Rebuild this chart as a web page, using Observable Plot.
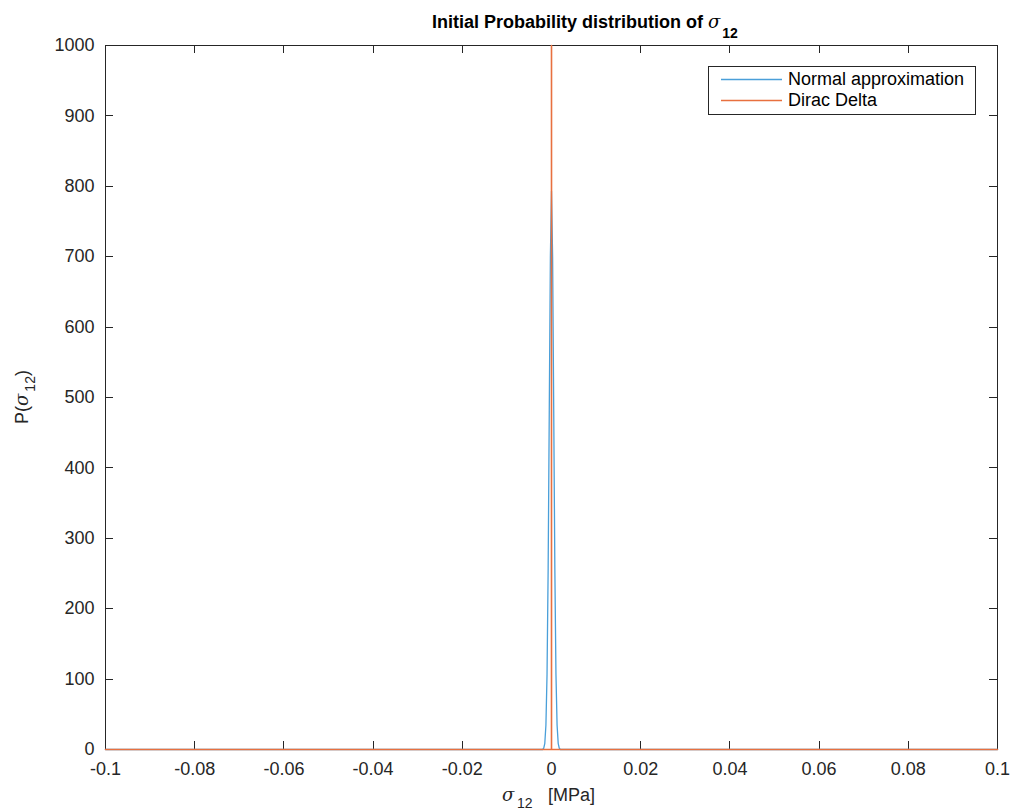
<!DOCTYPE html>
<html>
<head>
<meta charset="utf-8">
<script src="https://cdn.jsdelivr.net/npm/d3@7"></script>
<script src="https://cdn.jsdelivr.net/npm/@observablehq/plot@0.6"></script>
<style>
  html, body { margin: 0; padding: 0; background: #fff; }
  #chart svg { display: block; font-family: "Liberation Sans", Arial, Helvetica, sans-serif; }
</style>
</head>
<body>
<div id="chart"></div>
<script>
// ---- data ----
const normalX = [-0.1, -0.002, -0.00175, -0.0015, -0.00125, -0.001, -0.00075, -0.0005, -0.00025, 0,
                 0.00025, 0.0005, 0.00075, 0.001, 0.00125, 0.0015, 0.00175, 0.002, 0.1];
const normalY = [0, 0, 1.7, 8.8, 34.8, 107, 257, 481, 700, 793,
                 700, 481, 257, 107, 34.8, 8.8, 1.7, 0, 0];
const diracX = [-0.1, 0, 0, 0, 0.1];
const diracY = [0, 0, 1000, 0, 0];
const xTicks = [-0.1, -0.08, -0.06, -0.04, -0.02, 0, 0.02, 0.04, 0.06, 0.08, 0.1];
const xTickLabels = ["-0.1", "-0.08", "-0.06", "-0.04", "-0.02", "0", "0.02", "0.04", "0.06", "0.08", "0.1"];
const yTicks = [0, 100, 200, 300, 400, 500, 600, 700, 800, 900, 1000];
const yTickLabels = ["0", "100", "200", "300", "400", "500", "600", "700", "800", "900", "1000"];
const seriesNames = ["Normal approximation", "Dirac Delta"];
const seriesColors = ["#4A9FD9", "#E8703F"];

const normal = normalX.map((x, i) => ({x, y: normalY[i]}));
const dirac = diracX.map((x, i) => ({x, y: diracY[i]}));

const axisColor = "#262626";
const W = 1011, H = 812;
const mL = 105, mR = 14, mT = 45, mB = 63;

const plot = Plot.plot({
  width: W, height: H,
  marginLeft: mL, marginRight: mR, marginTop: mT, marginBottom: mB,
  style: {fontFamily: '"Liberation Sans", Arial, Helvetica, sans-serif', background: "#fff"},
  x: {domain: [-0.1, 0.1]},
  y: {domain: [0, 1000]},
  marks: [
    Plot.frame({stroke: axisColor, strokeWidth: 1}),
    Plot.axisX(xTicks, {tickSize: 0, tickPadding: 13, fontSize: 18, fill: axisColor,
      tickFormat: (d) => xTickLabels[xTicks.indexOf(d)], label: null}),
    Plot.axisY(yTicks, {tickSize: 0, tickPadding: 11, fontSize: 18, fill: axisColor,
      tickFormat: (d) => yTickLabels[yTicks.indexOf(d)], label: null}),
    Plot.line(normal, {x: "x", y: "y", stroke: seriesColors[0], strokeWidth: 1.3}),
    Plot.line(dirac, {x: "x", y: "y", stroke: seriesColors[1], strokeWidth: 1.6})
  ]
});

document.getElementById("chart").appendChild(plot);

const svg = d3.select(plot);
const sx = plot.scale("x"), sy = plot.scale("y");
const x0 = mL, x1 = W - mR, y0 = mT, y1 = H - mB;
const tl = 8;

// inward ticks on all four sides
const g = svg.insert("g", ":first-child").attr("stroke", axisColor).attr("stroke-width", 1);
xTicks.forEach(v => {
  const px = Math.round(sx.apply(v)) + 0.5;
  g.append("line").attr("x1", px).attr("x2", px).attr("y1", y1).attr("y2", y1 - tl);
  g.append("line").attr("x1", px).attr("x2", px).attr("y1", y0).attr("y2", y0 + tl);
});
yTicks.forEach(v => {
  const py = Math.round(sy.apply(v)) + 0.5;
  g.append("line").attr("x1", x0).attr("x2", x0 + tl).attr("y1", py).attr("y2", py);
  g.append("line").attr("x1", x1).attr("x2", x1 - tl).attr("y1", py).attr("y2", py);
});

const font = '"Liberation Sans", Arial, Helvetica, sans-serif';

// title
const title = svg.append("text")
  .attr("x", 432).attr("y", 28)
  .attr("text-anchor", "start")
  .attr("font-family", font).attr("font-size", 18).attr("font-weight", "bold")
  .attr("fill", "#000");
title.append("tspan").text("Initial Probability distribution of ");
title.append("tspan").attr("font-style", "italic").attr("font-weight", "normal").attr("font-family", "DejaVu Serif, serif").text("σ");
title.append("tspan").attr("font-size", 14).attr("dy", 10).attr("dx", 2).text("12");

// x label
const xl = svg.append("text")
  .attr("x", 502).attr("y", 801)
  .attr("text-anchor", "start")
  .attr("font-family", font).attr("font-size", 18).attr("fill", axisColor);
xl.append("tspan").attr("font-style", "italic").attr("font-family", "DejaVu Serif, serif").text("σ");
xl.append("tspan").attr("x", 517).attr("font-size", 14).attr("dy", 7).text("12");
xl.append("tspan").attr("x", 548).attr("dy", -7).text("[MPa]");

// y label
const yl = svg.append("text")
  .attr("transform", `translate(28,${(y0 + y1) / 2}) rotate(-90)`)
  .attr("text-anchor", "middle")
  .attr("font-family", font).attr("font-size", 18).attr("fill", axisColor);
yl.append("tspan").text("P(");
yl.append("tspan").attr("font-style", "italic").attr("font-family", "DejaVu Serif, serif").text("σ");
yl.append("tspan").attr("font-size", 14).attr("dy", 7).attr("dx", 2).text("12");
yl.append("tspan").attr("dy", -7).text(")");

// legend
const lg = svg.append("g");
lg.append("rect").attr("x", 708.5).attr("y", 66.5).attr("width", 267).attr("height", 48)
  .attr("fill", "#fff").attr("stroke", axisColor).attr("stroke-width", 1);
seriesNames.forEach((name, i) => {
  const yy = 79 + i * 21;
  lg.append("line").attr("x1", 721).attr("x2", 782).attr("y1", yy + 0.5).attr("y2", yy + 0.5)
    .attr("stroke", seriesColors[i]).attr("stroke-width", 1.3);
  lg.append("text").attr("x", 788).attr("y", yy).attr("dy", "0.35em")
    .attr("text-anchor", "start")
    .attr("font-family", font).attr("font-size", 18).attr("fill", "#000").text(name);
});
</script>
</body>
</html>
